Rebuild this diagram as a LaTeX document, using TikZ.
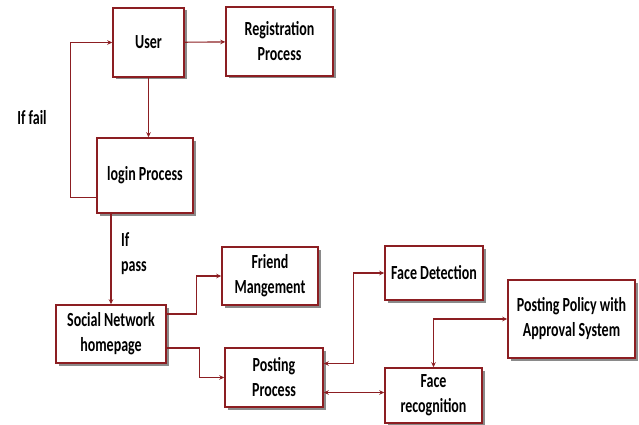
\documentclass[tikz,border=0pt]{standalone}
\usepackage{fontspec}
\setmainfont{Carlito}[FakeStretch=0.7]
\usepackage{tikz}
\usepackage{xcolor}
\usetikzlibrary{arrows.meta,positioning,shadows}

\definecolor{boxred}{RGB}{140,30,34}

\begin{document}
\begin{tikzpicture}[x=1pt, y=-1pt, every node/.style={font=\fontsize{20}{25}\selectfont\bfseries},
    box/.style={draw=boxred, line width=1.5pt, fill=white, align=center, inner sep=0pt,
        drop shadow={shadow xshift=2.5pt, shadow yshift=-2.5pt, fill=black!65, opacity=0.7}},
    arr/.style={draw=boxred, line width=1.1pt, -{Stealth[length=5pt,width=4.5pt]}},
    dbl/.style={draw=boxred, line width=1.1pt, {Stealth[length=5pt,width=4.5pt]}-{Stealth[length=5pt,width=4.5pt]}}]
    \useasboundingbox (0,0) rectangle (639,425);

    \node[box, minimum width=71pt, minimum height=69pt] (user) at (148.5,42.5) {User};
    \node[box, minimum width=107pt, minimum height=69pt] (reg) at (279.5,41.5) {Registration\\Process};
    \node[box, minimum width=96pt, minimum height=75pt] (login) at (145,175.5) {login Process};
    \node[box, minimum width=110pt, minimum height=58pt] (social) at (111,334) {Social Network\\homepage};
    \node[box, minimum width=96pt, minimum height=58pt] (friend) at (270,276) {Friend\\Mangement};
    \node[box, minimum width=98pt, minimum height=59pt] (posting) at (274,377.5) {Posting\\Process};
    \node[box, minimum width=98pt, minimum height=54pt] (facedet) at (434,273) {Face Detection};
    \node[box, minimum width=127pt, minimum height=78pt] (policy) at (571.5,319) {Posting Policy with\\Approval System};
    \node[box, minimum width=97pt, minimum height=55pt] (facerec) at (433.5,395.5) {Face\\recognition};

    \node (fail) at (32,118) {If fail};
    \node[align=left, anchor=north west, inner sep=0pt] (pass) at (121,232) {If\\pass};

    \draw[arr] (user) -- (reg);
    \draw[arr] (user.south) -- (user.south |- login.north);
    \draw[arr] ([yshift=-22pt]login.west) -- ++(-26pt,0) |- (user.west);
    \draw[arr] (social.north |- login.south) -- (social.north);
    \draw[arr] ([yshift=20pt]social.east) -- ++(30pt,0) |- (friend.west);
    \draw[arr] ([yshift=-14pt]social.east) -- ++(33pt,0) |- (posting.west);
    \draw[dbl] ([yshift=14pt]posting.east) -- ++(30pt,0) |- (facedet.west);
    \draw[dbl] ([yshift=-15pt]posting.east) -- ([yshift=-15pt]posting.east -| facerec.west);
    \draw[dbl] (policy.west) -| (facerec.north);
\end{tikzpicture}
\end{document}
